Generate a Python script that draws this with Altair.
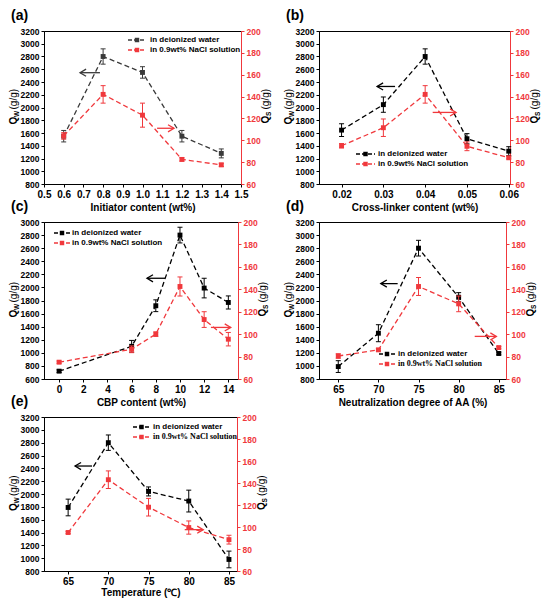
import altair as alt
import pandas as pd

SANS = "Liberation Sans"
SERIF = "Liberation Serif"
RED = "#f0383c"

# ---------------- data ----------------
A_X = [0.6, 0.8, 1.0, 1.2, 1.4]
A_QW = [1550, 2800, 2550, 1550, 1280]
A_QW_ERR = [90, 120, 90, 90, 70]
A_QS = [104, 142, 123, 82.5, 77.5]
A_QS_ERR = [3, 8, 11, 1.5, 1.5]

B_X = [0.02, 0.03, 0.04, 0.05, 0.06]
B_QW = [1645, 2045, 2800, 1510, 1315]
B_QW_ERR = [100, 120, 120, 80, 70]
B_QS = [95, 111.5, 142, 94.5, 84]
B_QS_ERR = [2, 8, 8, 4, 1]

C_X = [0, 6, 8, 10, 12, 14]
C_QW = [720, 1100, 1720, 2800, 1990, 1770]
C_QW_ERR = [20, 90, 90, 120, 150, 100]
C_QS = [75, 86.5, 100, 142.5, 113, 95.5]
C_QS_ERR = [1, 3, 2, 8.5, 7, 6]

D_X = [65, 70, 75, 80, 85]
D_QW = [990, 1500, 2800, 2050, 1190]
D_QW_ERR = [90, 130, 120, 70, 20]
D_QS = [80.5, 86, 142.5, 127, 88]
D_QS_ERR = [2, 1, 8, 7, 1]

E_X = [65, 70, 75, 80, 85]
E_QW = [1790, 2800, 2040, 1890, 980]
E_QW_ERR = [130, 120, 70, 170, 130]
E_QS = [95, 143, 118, 99.5, 88.5]
E_QS_ERR = [1, 8, 8, 6, 4]

# arrows: (head x, tail x, y)
A_ARROW_W = (0.683, 0.784, 2546)
A_ARROW_S = (1.074, 1.16, 111)
B_ARROW_W = (0.0285, 0.0328, 2330)
B_ARROW_S = (0.0418, 0.0474, 125.5)
C_ARROW_W = (7.27, 8.76, 2140)
C_ARROW_S = (12.56, 14.2, 106)
D_ARROW_W = (70.3, 72.4, 2258)
D_ARROW_S = (82.0, 84.7, 98)
E_ARROW_W = (65.86, 67.97, 2436)
E_ARROW_S = (79.5, 81.8, 97.6)

LEFT_800 = [800, 3200]
LEFT_600 = [600, 3000]
RIGHT_DOM = [60, 200]

LEG_W = "in deionized water"
LEG_S = "in 0.9wt% NaCl solution"


def txt(text, x, y, size=9, weight="bold", font=SANS, angle=0, align="left",
        baseline="middle", color="black"):
    kw = dict(text=text, fontSize=size, fontWeight=weight, font=font,
              align=align, baseline=baseline, color=color)
    if angle:
        kw["angle"] = angle
    return alt.Chart(pd.DataFrame({"a": [0]})).mark_text(**kw).encode(
        x=alt.value(x), y=alt.value(y))


def panel(label, xs, qw, qwe, qs, qse, xdom, xvals, xfmt, xtitle, ldom,
          width, height, leg, leg_serif, arrw, arrs, wcol, xlab_pad=3):
    df = pd.DataFrame({
        "x": xs, "w": qw,
        "wlo": [a - b for a, b in zip(qw, qwe)],
        "whi": [a + b for a, b in zip(qw, qwe)],
        "s": qs,
        "slo": [a - b for a, b in zip(qs, qse)],
        "shi": [a + b for a, b in zip(qs, qse)],
    })
    base = alt.Chart(df)
    xaxis = alt.Axis(values=xvals, format=xfmt, title=xtitle, labelFontSize=10,
                     labelFlush=False, labelOverlap=False, titlePadding=xlab_pad,
                     titleFontSize=10, titleFontWeight="bold", titleFont=SANS)
    xscale = alt.Scale(domain=xdom, nice=False, zero=False)

    def X(f):
        return alt.X(f"{f}:Q", scale=xscale, axis=xaxis)

    lstep = 200
    laxis = alt.Axis(orient="left", values=list(range(ldom[0], ldom[1] + 1, lstep)),
                     format="d", title=None, labelFlush=False, labelOverlap=False)
    lscale = alt.Scale(domain=ldom, nice=False, zero=False)

    def YL(f):
        return alt.Y(f"{f}:Q", scale=lscale, axis=laxis)

    raxis = alt.Axis(orient="right", values=list(range(60, 201, 20)), format="d",
                     title=None, labelFlush=False, labelOverlap=False,
                     domainColor=RED, tickColor=RED, labelColor=RED)
    rscale = alt.Scale(domain=RIGHT_DOM, nice=False, zero=False)

    def YR(f):
        return alt.Y(f"{f}:Q", scale=rscale, axis=raxis)

    dash = [5, 3]

    def series(Y, col, f, lo, hi, arrow, head_left):
        line = base.mark_line(color=col, strokeDash=dash, strokeWidth=1.3).encode(
            x=X("x"), y=Y(f))
        err = base.mark_rule(color=col, strokeWidth=1).encode(
            x=X("x"), y=Y(lo), y2=alt.Y2(hi))
        cap1 = base.mark_tick(color=col, orient="horizontal", size=5, thickness=1,
                              opacity=1).encode(x=X("x"), y=Y(lo))
        cap2 = base.mark_tick(color=col, orient="horizontal", size=5, thickness=1,
                              opacity=1).encode(x=X("x"), y=Y(hi))
        pts = base.mark_square(color=col, size=24, opacity=1).encode(x=X("x"), y=Y(f))
        adf = pd.DataFrame({"x0": [arrow[0]], "x1": [arrow[1]], "y": [arrow[2]]})
        ar = alt.Chart(adf).mark_rule(color=col, strokeWidth=1.3).encode(
            x=X("x0"), x2=alt.X2("x1"), y=Y("y"))
        if head_left:
            hd = alt.Chart(adf).mark_point(shape="M2.2,-1.3L0,0L2.2,1.3", filled=False,
                                           size=30, strokeWidth=1.3, color=col,
                                           opacity=1).encode(x=X("x0"), y=Y("y"))
        else:
            hd = alt.Chart(adf).mark_point(shape="M-2.2,-1.3L0,0L-2.2,1.3", filled=False,
                                           size=30, strokeWidth=1.3, color=col,
                                           opacity=1).encode(x=X("x1"), y=Y("y"))
        return [line, err, cap1, cap2, pts, ar, hd]

    water = series(YL, wcol, "w", "wlo", "whi", arrw, True)
    salt = series(YR, RED, "s", "slo", "shi", arrs, False)

    # annotations
    lx0, lx1, tx, ry1, ry2 = leg
    ann = []
    for col, ry in ((wcol, ry1), (RED, ry2)):
        ann.append(alt.Chart(pd.DataFrame({"a": [0]})).mark_rule(
            color=col, strokeDash=[4, 2], strokeWidth=1.3).encode(
            x=alt.value(lx0), x2=alt.value(lx1), y=alt.value(ry)))
        ann.append(alt.Chart(pd.DataFrame({"a": [0]})).mark_square(
            color=col, size=20, opacity=1).encode(
            x=alt.value((lx0 + lx1) / 2), y=alt.value(ry)))
    ann.append(txt(LEG_W, tx, ry1, size=8))
    ann.append(txt(LEG_S, tx, ry2, size=8, font=SERIF if leg_serif else SANS))
    ann.append(txt(label, -33, -22, size=14, baseline="top"))
    # left title Q_W (g/g)
    cy = height / 2
    ann.append(txt("Q", -30, cy + 17, size=10, angle=270))
    ann.append(txt("W", -27.5, cy + 9.5, size=6.5, angle=270))
    ann.append(txt("(g/g)", -30, cy + 2, size=10, weight="normal", angle=270))
    # right title Q_S (g/g)
    rx = width + 25
    ann.append(txt("Q", rx, cy + 16, size=10, angle=270))
    ann.append(txt("S", rx + 2.5, cy + 8.5, size=6.5, angle=270))
    ann.append(txt("(g/g)", rx, cy + 2, size=10, weight="normal", angle=270))

    left = alt.layer(*water, *ann)
    right = alt.layer(*salt)
    return alt.layer(left, right).resolve_scale(y="independent").properties(
        width=width, height=height)


pa = panel("(a)", A_X, A_QW, A_QW_ERR, A_QS, A_QS_ERR, [0.5, 1.5],
           [0.5, 0.6, 0.7, 0.8, 0.9, 1.0, 1.1, 1.2, 1.3, 1.4, 1.5], ".1f",
           "Initiator content (wt%)", LEFT_800, 197, 153,
           (84, 102, 106, 9, 19), False, A_ARROW_W, A_ARROW_S, "#3a3a3a")
pb = panel("(b)", B_X, B_QW, B_QW_ERR, B_QS, B_QS_ERR, [0.0146, 0.0603],
           [0.02, 0.03, 0.04, 0.05, 0.06], ".2f",
           "Cross-linker content (wt%)", LEFT_800, 191, 153,
           (37, 56, 59, 123, 133), False, B_ARROW_W, B_ARROW_S, "black")
pc = panel("(c)", C_X, C_QW, C_QW_ERR, C_QS, C_QS_ERR, [-1.25, 14.8],
           [0, 2, 4, 6, 8, 10, 12, 14], "d",
           "CBP content (wt%)", LEFT_600, 194, 157,
           (10, 26, 28, 11, 21), False, C_ARROW_W, C_ARROW_S, "black")
pd_ = panel("(d)", D_X, D_QW, D_QW_ERR, D_QS, D_QS_ERR, [62.6, 85.9],
            [65, 70, 75, 80, 85], "d",
            "Neutralization degree of AA (%)", LEFT_800, 187, 157,
            (60, 76, 79, 132, 142), True, D_ARROW_W, D_ARROW_S, "black")
pe = panel("(e)", E_X, E_QW, E_QW_ERR, E_QS, E_QS_ERR, [62, 86],
           [65, 70, 75, 80, 85], "d",
           "Temperature (\u2103)", LEFT_800, 193, 154,
           (89, 106, 109, 10, 20), True, E_ARROW_W, E_ARROW_S, "black", xlab_pad=1)

chart = alt.concat(pa, pb, pc, pd_, pe, columns=2, bounds="flush",
                   spacing={"row": 38, "column": 78}).properties(
    padding=0, background="white"
).configure_view(stroke="black", strokeWidth=1).configure_axis(
    grid=False, domainColor="black", domainWidth=1, tickColor="black",
    tickSize=3, tickWidth=1, labelFont=SANS, labelFontWeight="bold",
    labelFontSize=8.5, labelPadding=2, titleFont=SANS, labelColor="black"
)

chart.save("out.html", embed_options={"renderer": "svg", "actions": False})
